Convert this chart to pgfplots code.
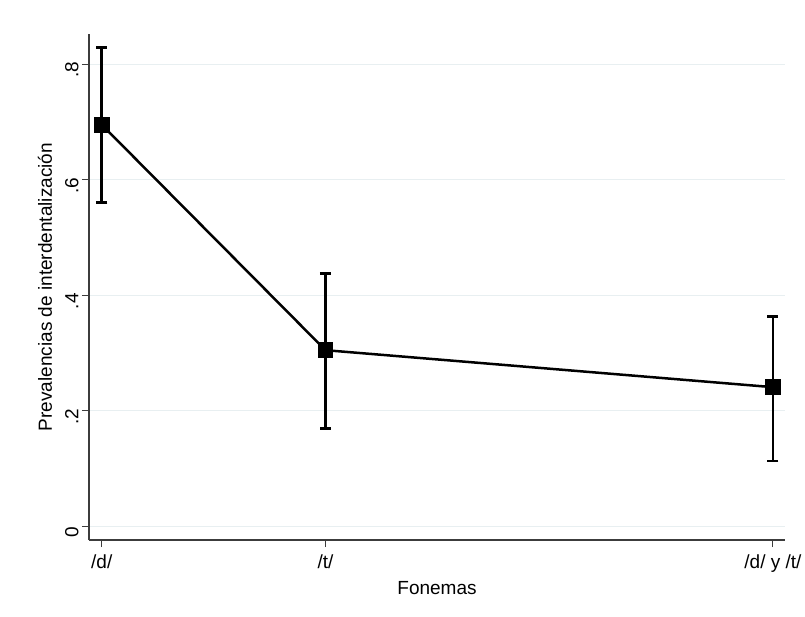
\documentclass[border=0pt]{standalone}
\usepackage{pgfplots}
\pgfplotsset{compat=1.18}
\usepackage{fontspec}
\setmainfont{Liberation Sans}
\definecolor{gridc}{RGB}{232,239,241}
\definecolor{axc}{RGB}{60,60,60}
\begin{document}
\begin{tikzpicture}
\begin{axis}[
  scale only axis,
  width=696bp, height=506bp,
  xmin=0.943, xmax=4.054,
  ymin=-0.0234, ymax=0.852,
  xtick={1,2,4}, xticklabels={/d/,/t/,/d/ y /t/},
  ytick={0,0.2,0.4,0.6,0.8}, yticklabels={0,.2,.4,.6,.8},
  axis x line*=bottom, axis y line*=left,
  axis line style={draw=axc, line width=1.1bp, -},
  tick style={draw=axc, line width=1.1bp},
  major tick length=7bp, tick align=outside,
  ymajorgrids, grid style={draw=gridc, line width=1bp},
  /pgf/number format/assume math mode=true,
  font=\fontsize{19bp}{22bp}\selectfont,
  ticklabel style={font=\fontsize{19bp}{22bp}\selectfont},
  yticklabel style={rotate=90, anchor=south, xshift=-6bp},
  xticklabel style={yshift=-4bp},
  xlabel={Fonemas}, ylabel={Prevalencias de interdentalización},
  ylabel style={at={(axis description cs:-0.0632,0.5)}, anchor=center},
  xlabel style={at={(axis description cs:0.5,-0.095)}, anchor=center},
  clip=false,
]
\coordinate (o) at (rel axis cs:0,0);
\addplot[black, line width=2.5bp, mark=square*, mark size=6.7bp, mark options={solid},
  error bars/.cd, y dir=both, y explicit,
  error bar style={line width=2.6bp, black},
  error mark options={rotate=90, mark size=5.5bp, line width=2.6bp, black}]
coordinates {
(1,0.695) += (0,0.134) -= (0,0.135)
(2,0.305) += (0,0.133) -= (0,0.136)
(4,0.241) += (0,0.122) -= (0,0.128)
};
\end{axis}
\pgfresetboundingbox
\useasboundingbox (o) ++(-89bp,-77bp) rectangle ++(805bp,617bp);
\end{tikzpicture}
\end{document}
